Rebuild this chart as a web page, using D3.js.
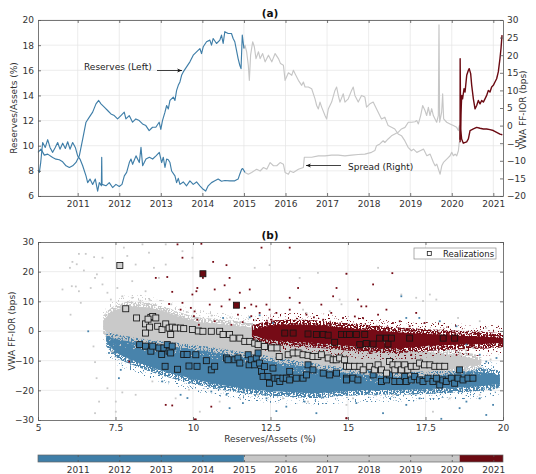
<!DOCTYPE html>
<html>
<head>
<meta charset="utf-8">
<script src="https://cdn.jsdelivr.net/npm/d3@7"></script>
<style>
  body { margin: 0; background: #fff; }
  svg text { font-family: "DejaVu Sans", sans-serif; }
</style>
</head>
<body>
<svg id="chart" width="536" height="474"></svg>
<script>
// ---------- data ----------
// Reserves / assets (%), [decimal year, value]
const reserves = [
  [2010.045,9.47],[2010.117,9.73],[2010.197,9.25],[2010.278,9.33],[2010.398,9.07],[2010.478,8.93],
  [2010.558,8.88],[2010.639,8.72],[2010.719,8.4],[2010.799,8.27],[2010.879,8.4],[2010.959,8.67],
  [2011.039,9.2],[2011.12,10.53],[2011.2,11.87],[2011.28,12.27],[2011.36,12.67],[2011.44,13.33],
  [2011.505,13.6],[2011.56,13.33],[2011.64,13.07],[2011.72,12.8],[2011.8,12.53],[2011.88,12.4],
  [2011.96,12.13],[2012.04,12.4],[2012.12,12.67],[2012.16,12.13],[2012.24,12.4],[2012.32,11.87],
  [2012.4,12.13],[2012.48,12.0],[2012.56,11.73],[2012.64,11.6],[2012.72,11.2],[2012.8,11.47],
  [2012.88,11.47],[2012.96,11.87],[2013.0,11.3],[2013.04,12.0],[2013.1,12.67],[2013.14,13.2],
  [2013.18,12.93],[2013.22,13.6],[2013.3,13.87],[2013.34,13.6],[2013.38,14.4],[2013.42,14.8],
  [2013.46,15.07],[2013.5,15.6],[2013.54,15.87],[2013.62,16.27],[2013.7,16.67],[2013.78,17.2],
  [2013.86,17.47],[2013.94,17.73],[2013.98,17.33],[2014.02,17.87],[2014.1,18.27],[2014.18,18.4],
  [2014.22,18.0],[2014.26,18.53],[2014.34,18.13],[2014.42,18.4],[2014.46,18.8],[2014.5,18.13],
  [2014.54,19.07],[2014.62,18.93],[2014.7,18.93],[2014.74,18.53],[2014.78,18.27],[2014.82,17.6],
  [2014.86,16.93],[2014.9,16.4],[2014.93,16.13],[2014.945,17.47],[2014.96,18.8],
  [2015.0,17.73],[2015.025,18.0],[2015.065,17.47],[2015.105,16.4],[2015.13,15.2],[2015.16,17.2],
  [2015.21,18.27],[2015.25,17.87],[2015.29,16.93],[2015.35,17.47],[2015.39,16.93],[2015.45,17.33],
  [2015.51,16.67],[2015.59,17.2],[2015.67,16.67],[2015.75,17.33],[2015.83,16.93],[2015.88,16.53],
  [2015.95,16.4],[2015.99,15.2],[2016.07,15.8],[2016.15,15.6],[2016.19,16.0],[2016.23,15.73],
  [2016.31,15.2],[2016.39,14.8],[2016.43,15.07],[2016.47,14.67],[2016.55,14.67],[2016.63,14.53],
  [2016.71,13.73],[2016.75,13.2],[2016.79,12.93],[2016.83,13.47],[2016.87,13.07],[2016.95,12.4],
  [2016.99,12.13],[2017.03,12.93],[2017.11,13.47],[2017.19,14.4],[2017.23,14.67],[2017.27,14.0],
  [2017.31,13.47],[2017.39,14.13],[2017.43,13.47],[2017.51,13.73],[2017.59,14.4],[2017.63,14.67],
  [2017.67,14.0],[2017.75,13.47],[2017.83,14.0],[2017.91,13.87],[2017.95,13.07],[2018.03,13.33],
  [2018.11,13.47],[2018.15,13.2],[2018.23,12.67],[2018.31,12.13],[2018.39,12.27],[2018.47,11.6],
  [2018.55,11.47],[2018.63,11.33],[2018.71,10.93],[2018.79,10.8],[2018.87,10.4],[2018.95,9.87],
  [2019.03,9.6],[2019.08,9.73],[2019.16,9.47],[2019.24,9.6],[2019.32,9.73],[2019.4,9.2],
  [2019.48,9.33],[2019.56,8.67],[2019.6,8.4],[2019.64,8.53],[2019.68,8.13],[2019.72,7.73],
  [2019.76,8.4],[2019.8,8.67],[2019.88,8.93],[2019.96,9.2],[2020.0,9.47],[2020.04,9.2],
  [2020.08,9.33],[2020.12,9.2],[2020.16,9.6],[2020.18,10.27],
  [2020.2,10.27],[2020.22,12.4],[2020.24,14.0],[2020.26,13.73],[2020.295,14.53],[2020.32,14.27],
  [2020.36,15.6],[2020.4,16.0],[2020.42,16.13],[2020.455,15.73],[2020.48,14.8],[2020.52,13.73],
  [2020.56,12.93],[2020.6,13.2],[2020.64,13.6],[2020.68,13.33],[2020.72,13.6],[2020.76,13.47],
  [2020.8,13.73],[2020.84,14.0],[2020.88,14.4],[2020.92,14.27],[2020.96,14.67],[2021.0,14.8],
  [2021.04,15.07],[2021.08,15.33],[2021.12,15.87],[2021.16,16.93],[2021.185,17.73],[2021.21,18.8]
];

// Value-weighted FF minus IOR spread (bps), [decimal year, value]
const spread = [
  [2010.045,-12.6],[2010.077,-13.3],[2010.11,-10.5],[2010.157,-4.8],[2010.22,-6.2],[2010.278,-4.0],
  [2010.334,-6.2],[2010.398,-7.6],[2010.46,-6.2],[2010.518,-4.8],[2010.574,-6.7],[2010.639,-5.0],
  [2010.703,-6.5],[2010.759,-4.6],[2010.815,-6.7],[2010.879,-4.8],[2010.943,-6.2],[2010.999,-8.6],
  [2011.055,-9.5],[2011.12,-11.4],[2011.2,-14.3],[2011.24,-16.2],[2011.296,-15.2],[2011.36,-16.7],
  [2011.424,-15.2],[2011.48,-18.6],[2011.52,-16.2],[2011.57,-17.1],[2011.578,-9.0],[2011.586,-16.7],
  [2011.68,-17.1],[2011.76,-16.2],[2011.84,-17.6],[2011.92,-16.7],[2012.0,-17.3],[2012.066,-16.7],
  [2012.122,-14.3],[2012.178,-13.3],[2012.242,-10.5],[2012.282,-9.5],[2012.322,-11.0],[2012.403,-8.6],
  [2012.483,-10.5],[2012.523,-6.2],[2012.563,-11.4],[2012.643,-9.5],[2012.724,-9.0],[2012.804,-9.5],
  [2012.884,-8.6],[2012.964,-7.6],[2013.02,-10.5],[2013.06,-9.0],[2013.1,-11.9],[2013.14,-9.5],
  [2013.18,-9.7],[2013.22,-10.5],[2013.26,-12.9],[2013.34,-14.3],[2013.38,-16.2],[2013.42,-15.0],
  [2013.46,-16.7],[2013.54,-16.0],[2013.62,-17.1],[2013.7,-15.7],[2013.78,-16.7],[2013.86,-16.0],
  [2013.94,-17.1],[2014.02,-18.1],[2014.08,-18.6],[2014.14,-17.1],[2014.22,-16.2],[2014.3,-15.7],
  [2014.38,-15.2],[2014.46,-15.8],[2014.54,-15.6],[2014.66,-15.7],[2014.78,-15.7],[2014.86,-15.2],
  [2014.9,-13.8],[2014.945,-12.4],[2014.97,-12.2],
  [2015.025,-13.3],[2015.105,-13.8],[2015.185,-13.3],[2015.306,-12.4],[2015.39,-12.9],[2015.47,-11.9],
  [2015.55,-12.4],[2015.63,-10.5],[2015.71,-11.4],[2015.79,-11.4],[2015.87,-10.5],[2015.95,-11.0],
  [2015.99,-13.3],[2016.07,-13.8],[2016.11,-12.9],[2016.19,-13.3],[2016.31,-12.4],[2016.43,-11.9],
  [2016.453,-9.0],[2016.51,-9.0],[2016.63,-9.0],[2016.79,-8.6],[2016.95,-8.6],[2017.11,-8.4],
  [2017.27,-8.4],[2017.43,-8.6],[2017.59,-8.4],[2017.75,-8.2],[2017.91,-8.1],[2018.07,-7.6],
  [2018.15,-7.1],[2018.19,-5.7],[2018.27,-5.2],[2018.35,-4.3],[2018.39,-4.8],[2018.47,-3.8],
  [2018.55,-2.9],[2018.63,-2.4],[2018.71,-1.9],[2018.79,-0.95],[2018.875,-0.5],[2018.955,0.95],
  [2019.035,0.95],[2019.115,1.1],[2019.156,1.43],[2019.196,0.48],[2019.252,2.86],[2019.3,5.7],
  [2019.356,4.3],[2019.396,2.86],[2019.437,5.2],[2019.477,2.86],[2019.517,4.8],[2019.557,2.86],
  [2019.597,1.9],[2019.637,0.95],[2019.677,2.86],[2019.693,28.6],[2019.709,0.95],[2019.757,3.8],
  [2019.781,9.0],[2019.805,1.9],[2019.878,0.95],[2019.958,0.48],[2020.038,0],[2020.118,-0.5],
  [2020.158,-1.4],[2020.183,0],
  [2020.2,-4.0],[2020.202,19.0],[2020.215,-0.95],[2020.238,-3.8],[2020.278,-5.0],[2020.359,-4.6],
  [2020.4,-3.8],[2020.44,-1.4],[2020.52,-0.95],[2020.6,-0.5],[2020.68,-0.76],[2020.76,-0.95],
  [2020.84,-0.95],[2020.92,-1.14],[2021.0,-1.4],[2021.08,-1.9],[2021.16,-2.4],[2021.217,-2.6]
];

// Regime boundaries (decimal years) and their colours
const periodEdges = [2010.045, 2015.0, 2020.19, 2021.233];
const periodColors = ["#3f7ea8", "#c6c6c6", "#6b0a12"];
const yearTicks = [2011, 2012, 2013, 2014, 2015, 2016, 2017, 2018, 2019, 2020, 2021];
const leftTicks = [6, 8, 10, 12, 14, 16, 18, 20];
const rightTicks = [-20, -15, -10, -5, 0, 5, 10, 15, 20, 25, 30];

// Simulated cloud envelopes per regime: [reserves %, lower bps, upper bps]
const blueCloud = [
  [7.2,-3.5,-0.5],[7.5,-7.0,-0.8],[8.0,-9.6,-1.8],[8.5,-11.6,-2.6],[9.0,-13.4,-3.2],[9.5,-14.8,-3.8],
  [10.0,-16.2,-4.4],[10.5,-17.4,-5.0],[11.0,-18.4,-5.6],[11.5,-19.2,-6.4],[12.0,-19.8,-7.3],
  [12.5,-20.2,-8.2],[13.0,-20.5,-9.3],[13.5,-20.8,-10.1],[14.0,-21.0,-10.7],[14.5,-20.6,-11.4],
  [15.0,-20.2,-12.0],[15.5,-20.0,-12.6],[16.0,-19.9,-13.0],[17.0,-19.8,-13.5],[18.0,-19.4,-13.4],
  [19.0,-18.8,-13.6],[19.5,-18.4,-14.2],[19.9,-17.6,-15.0]
];
const grayCloud = [
  [7.1,0.5,3.5],[7.4,-0.8,6.5],[8.0,-2.0,8.3],[8.5,-2.8,8.0],[9.0,-3.4,6.8],[9.5,-4.0,5.0],
  [10.0,-4.6,3.4],[10.5,-5.3,2.7],[11.0,-6.1,2.2],[11.5,-6.9,1.6],[12.0,-7.7,1.0],[12.5,-8.6,0.2],
  [13.0,-9.4,-0.8],[13.5,-10.2,-1.8],[14.0,-11.0,-2.7],[14.5,-11.8,-3.6],[15.0,-12.6,-4.4],
  [15.5,-13.1,-5.0],[16.0,-13.5,-5.5],[16.5,-13.7,-6.0],[17.0,-13.8,-6.5],[17.5,-13.6,-7.0],
  [18.0,-13.3,-7.6],[18.5,-12.6,-8.3],[19.0,-11.6,-9.2],[19.3,-10.8,-10.0]
];
const redCloud = [
  [11.9,-1.2,0.2],[12.3,-2.6,1.4],[12.8,-3.3,2.1],[13.5,-3.8,2.2],[14.2,-4.2,1.8],[14.8,-4.8,1.2],
  [15.5,-5.4,0.5],[16.0,-5.7,0.1],[16.5,-5.8,-0.3],[17.0,-5.6,-0.7],[17.5,-5.1,-1.0],[18.0,-4.8,-1.2],
  [18.5,-4.6,-1.5],[19.0,-4.5,-1.8],[19.5,-4.3,-2.0],[20.0,-4.0,-2.4]
];

// Scattered simulated draws outside the dense clouds: [reserves %, bps]
const grayDots = [
  [6.11,23.3],[6.32,26],[6.54,26],[6.03,21.3],[6.25,22.5],[6.48,20.4],[6.81,24.9],[7.08,24.7],
  [6.9,19.1],[6.84,17.9],[5.79,14],[6.09,15.1],[6.22,15.0],[6.32,13.4],[6.05,5.5],[6.38,9.5],
  [6.7,14.5],[7.08,15.7],[7.24,12.9],[7.35,10.6],[6.79,-5.2],[6.84,-10.5],[6.89,-15.9],[6.84,-27.7],
  [6.97,-23.8],[7.24,-19.3],[7.4,-6.9],[7.72,-20.7],[7.77,28.1],[7.88,25.3],[8.15,22.4],[8.04,16.8],
  [8.37,29.2],[8.58,26.4],[8.74,21.3],[8.9,17.9],[9.12,29.2],[9.12,22.4],[8.04,11.2],[8.47,13.4],
  [7.56,14.5],[7.72,11.7],[7.35,6.1],[7.24,3.3],[9.66,26.9],[9.98,24.7],[7.51,-23.8],[7.51,-27.2],
  [8.15,-21.5],[8.69,-17],[9.44,-22.7],[9.87,-19.8],[11.99,21.3],[12.47,22.2],[13.44,17.9],
  [14.03,19.6],[14.95,19.3],[13.55,7.2],[13.66,6.1],[14.41,6.7],[14.73,10.6],[14.79,9.0],
  [10.22,-27.2],[10.86,-23.8],[11.51,-22.7],[12.1,-21.5],[12.9,-22.7],[13.71,-23.8],[14.41,-21.5],
  [14.95,-24.9],[15.97,21.3],[16.72,12.3],[17.2,11.2],[17.42,10.1],[17.64,12.3],[17.85,10.6],
  [18.55,4.4],[19.25,3.3],[19.46,1.0],[19.03,-5.7],[18.82,-13.6],[19.25,-21.5],[15.16,-22.7],
  [16.45,-21.5],[17.74,-27.2],[18.28,-22.7],[8.6,10.5],[9.3,9.0],[7.9,9.8],[8.3,10.2],[9.8,6.4],
  [10.6,5.2],[11.2,4.6],[12.0,3.6],[16.2,-3.8],[17.6,-5.2],[18.8,-6.6],[19.6,-9.6]
];
const blueDots = [
  [6.62,-0.1],[7.29,-7.4],[7.67,-13.1],[7.61,-15.9],[9.01,-17],[9.6,-21.5],[9.82,-22.6],[9.87,-17.5],
  [10.59,-20.4],[11.08,-21.5],[11.18,-26],[11.61,-24.3],[12.37,-22.7],[12.69,-27],[13.01,-25.5],
  [13.23,-22.1],[13.6,-23.8],[13.98,-27.7],[14.52,-20.4],[10.97,4.4],[11.83,4.6],[12.15,5.3],
  [12.58,2.7],[16.72,11.7],[16.88,4.4],[17.3,4.4],[17.96,3.3],[18.5,1.6],[18.82,-4.6],[19.25,-8],
  [19.46,-10.3],[19.79,-9.1],[15.27,-24.3],[16.13,-27.7],[16.88,-24.9],[17.31,-22.7],[18.01,-29.6],
  [18.6,-26],[18.82,-23.8],[19.25,-22.7],[19.68,-24.9],[19.46,-28.3],[15.9,-21.4],[17.1,-21.2],
  [18.3,-20.6],[19.6,-19.9],[14.2,-22.4],[12.0,-21.6]
];
const redDots = [
  [9.5,29.2],[9.66,24.7],[8.8,17.9],[9.17,18.2],[9.33,13.2],[9.23,9.1],[9.66,9.5],[9.98,12.3],
  [10.14,14.5],[9.6,7.2],[9.93,7.8],[10.03,5],[10.14,3.8],[10.19,2.1],[7.94,-10.3],[9.12,-24.9],
  [9.33,-25.1],[10.09,-29.8],[10.27,29.4],[10.65,23.3],[11.08,22.2],[11.18,17.9],[11.02,15.4],
  [10.7,14],[11.83,14],[12.21,28.1],[13.12,28.1],[11.51,12.9],[11.18,10.6],[10.92,8.3],[11.67,7.8],
  [11.88,8.9],[12.04,8.3],[12.37,8.9],[12.47,7.2],[12.15,6.1],[11.88,5],[12.53,3.8],[13.12,7.2],
  [13.44,9.5],[13.66,5.5],[14.2,3.8],[14.52,11.7],[14.46,6.1],[13.12,11.2],[13.39,14.5],[11.45,5.5],
  [10.7,3.3],[10.59,-25.5],[10.05,-29.8],[14.95,-29.4],[12.69,6.1],[10.11,13.4],[10.32,17.9],
  [10.54,8.9],[10.05,6.6],[12.8,3.3],[11.24,2.1],[13.55,2.7],[14.63,14.5],[14.14,8.9],[14.95,19.3],
  [16.43,19.5],[15.32,10.6],[15.43,8.3],[15.59,8.3],[15.81,15.7],[15.22,4.9],[15.48,4.4],[15.97,5.5],
  [16.24,7.2],[16.67,3.3],[16.99,1.6],[16.45,2.7],[17.2,6.1],[14.84,4.4],[17.47,2.7],[18.5,-8],
  [16.13,-17],[14.95,-29.4],[16.34,-6.9],[17.04,-8],[15.7,-7.4],[11.6,3.0],[12.0,1.8],[13.9,4.6],
  [18.1,-0.2],[19.2,-0.6],[19.9,-1.2]
];

// Realized (reserves %, spread bps) pairs per regime
const realBlue = [
  [8.28,-4.6],[8.47,-5.1],[8.64,-6.8],[8.7,-5.1],[8.9,-5.7],[8.99,-7.9],[9.06,-5.7],[9.17,-4.6],
  [9.23,-6.8],[9.28,-7.4],[9.33,-5.1],[9.1,-11.9],[9.5,-12.9],[9.7,-7.9],[9.81,-7.9],[9.87,-11.8],
  [10.09,-8.0],[10.13,-11.9],[10.43,-10],[10.59,-13.1],[10.7,-11.9],[11.08,-9.1],[11.13,-9.7],
  [11.35,-9.7],[11.45,-9.1],[11.51,-10.8],[11.78,-8],[11.81,-11.4],[11.88,-9.7],[11.99,-11.4],
  [12.04,-9.1],[12.1,-7.4],[12.15,-10.8],[12.21,-13.6],[12.31,-12],[12.26,-15.3],[12.42,-15.3],
  [12.47,-17.6],[12.58,-12.5],[12.64,-15.9],[12.74,-15.9],[12.8,-17],[12.9,-15.9],[13.01,-15.9],
  [13.12,-16.5],[13.12,-13.6],[13.33,-15.9],[13.55,-15.9],[13.66,-14.8],[13.71,-11.4],[13.87,-13.1],
  [14.2,-14.2],[14.41,-14.8],[14.63,-14.2],[14.95,-15.9],[14.95,-16.5],[15.16,-15.9],[15.32,-16.5],
  [15.81,-14.8],[16.08,-17],[16.24,-16.5],[16.34,-14.8],[16.51,-17],[16.67,-17],[16.83,-15.3],
  [16.88,-17],[17.04,-16.5],[17.15,-15.3],[17.31,-16.5],[17.42,-17],[17.58,-15.9],[17.74,-17],
  [17.85,-15.9],[17.96,-18.2],[18.06,-16.5],[18.17,-17],[18.33,-15.9],[18.44,-17.6],[18.55,-15.9],
  [18.6,-13.1],[18.71,-16.5],[18.87,-15.9],[19.03,-15.9]
];
const realGray = [
  [7.64,22.1],[7.83,7.5],[8.18,4.4],[8.47,2.4],[8.64,4.6],[8.7,4.9],[8.55,4.0],[8.6,1.3],[8.47,-0.7],
  [8.8,4.4],[8.86,1.6],[9.0,0.5],[9.12,2.4],[9.23,1.0],[9.28,-1.2],[9.33,1.3],[9.44,1.0],[9.6,1.0],
  [9.7,0.8],[9.98,0.5],[10.17,0],[10.32,-0.1],[10.59,-0.1],[10.86,-0.1],[10.97,-1.2],[11.18,-1.2],
  [11.29,-2.4],[11.51,-2.4],[11.67,-3.5],[11.83,-3.5],[11.99,-4.1],[12.1,-4.6],[12.31,-5.2],
  [12.53,-5.7],[12.71,-5.7],[12.78,-8.6],[13.07,-8.0],[13.23,-7.4],[13.39,-7.4],[13.55,-8],
  [13.71,-8.2],[13.87,-8.6],[14.03,-8.6],[14.14,-8.0],[14.36,-9.1],[14.52,-9.7],[14.62,-9.7],
  [14.73,-9.1],[14.89,-9.7],[14.95,-11.9],[15.05,-11.9],[15.21,-11.9],[15.38,-11.9],[15.49,-13.1],
  [15.7,-11.9],[15.86,-13.1],[15.97,-11.4],[16.08,-13.1],[16.24,-14.2],[16.34,-10.3],[16.45,-11.4],
  [16.51,-13.1],[16.61,-11.4],[16.72,-13.1],[16.83,-11.4],[16.93,-13.1],[17.04,-11.9],[17.2,-11.9],
  [17.31,-10.8],[17.47,-11.4],[17.64,-11.4],[17.8,-11.9],[17.96,-11.9],[18.12,-11.9]
];
const realRed = [
  [10.32,19.3],[11.4,8.7],[12.96,-0.7],[13.23,-0.7],[13.71,-1.0],[13.98,-1.2],[14.2,-1.2],[14.36,-1.4],
  [14.57,-3.8],[14.79,-1.2],[14.95,-1.2],[15.05,-1.2],[15.27,-1.2],[15.38,-4.6],[15.54,-1.2],
  [15.59,-4.2],[15.81,-4.4],[16.02,-2.4],[16.24,-2.4],[16.29,-4.4],[16.4,-2.4],[16.99,-2.4],
  [18.07,-2.4],[18.44,-2.4]
];
const reserveTicks = [5, 7.5, 10, 12.5, 15, 17.5, 20];
const spreadTicks = [-30, -20, -10, 0, 10, 20, 30];

// ---------- drawing ----------
const svg = d3.select("#chart");
const AX = "#555", TXT = "#333", GRID = "#e4e4e4";
const FONT = '"DejaVu Sans", sans-serif';

function styleAxis(g) {
  g.attr("font-family", FONT).attr("font-size", 9);
  g.selectAll(".domain").attr("stroke", AX).attr("stroke-width", 0.8);
  g.selectAll(".tick line").attr("stroke", AX).attr("stroke-width", 0.8);
  g.selectAll(".tick text").attr("fill", TXT);
}

// slice of a time series falling in regime i (plus the next point so segments join)
function regimeSlice(series, i) {
  const a = periodEdges[i], b = periodEdges[i + 1];
  const idx = [];
  series.forEach((d, k) => { if (d[0] >= a && (d[0] < b || i === periodEdges.length - 2)) idx.push(k); });
  const last = idx[idx.length - 1];
  if (last + 1 < series.length) idx.push(last + 1);
  return idx.map(k => series[k]);
}

const defs = svg.append("defs");

// grainy masks for the thin outer edges of the simulated clouds
function speckleFilter(id, seed, slope, offset) {
  const f = defs.append("filter").attr("id", id)
    .attr("x", "-5%").attr("y", "-5%").attr("width", "110%").attr("height", "110%");
  f.append("feTurbulence").attr("type", "fractalNoise").attr("baseFrequency", 0.6)
    .attr("numOctaves", 1).attr("seed", seed).attr("result", "noise");
  f.append("feColorMatrix").attr("in", "noise").attr("type", "matrix")
    .attr("values", `0 0 0 0 0  0 0 0 0 0  0 0 0 0 0  ${slope} 0 0 0 ${offset}`).attr("result", "mask");
  f.append("feComposite").attr("in", "SourceGraphic").attr("in2", "mask").attr("operator", "in");
}
speckleFilter("speckleDense", 4, 14, -6.2);
speckleFilter("speckleSparse", 9, 14, -8.6);

// ===== panel (a): time series =====
const xT = d3.scaleLinear().domain([periodEdges[0], periodEdges[3]]).range([38, 503]);
const yL = d3.scaleLinear().domain([6, 20]).range([196, 20]);
const yR = d3.scaleLinear().domain([-20, 30]).range([196, 20]);

const gA = svg.append("g");
gA.append("g").selectAll("line").data(yearTicks).join("line")
  .attr("x1", d => xT(d)).attr("x2", d => xT(d)).attr("y1", 20).attr("y2", 196)
  .attr("stroke", GRID).attr("stroke-width", 0.7);
gA.append("g").selectAll("line").data(leftTicks).join("line")
  .attr("x1", 38).attr("x2", 503).attr("y1", d => yL(d)).attr("y2", d => yL(d))
  .attr("stroke", GRID).attr("stroke-width", 0.7);

const lineRes = d3.line().x(d => xT(d[0])).y(d => yL(d[1]));
const lineSpr = d3.line().x(d => xT(d[0])).y(d => yR(d[1]));
const plotA = gA.append("g");
[1, 0, 2].forEach(i => {
  const w = i === 2 ? 1.4 : 1.15;
  plotA.append("path").datum(regimeSlice(spread, i)).attr("d", lineSpr)
    .attr("fill", "none").attr("stroke", periodColors[i]).attr("stroke-width", w).attr("stroke-linejoin", "round");
  plotA.append("path").datum(regimeSlice(reserves, i)).attr("d", lineRes)
    .attr("fill", "none").attr("stroke", periodColors[i]).attr("stroke-width", w).attr("stroke-linejoin", "round");
});

gA.append("g").attr("transform", "translate(0,196)")
  .call(d3.axisBottom(xT).tickValues(yearTicks).tickFormat(d3.format("d")).tickSizeInner(-3).tickSizeOuter(0).tickPadding(5))
  .call(styleAxis);
gA.append("g").attr("transform", "translate(0,20)")
  .call(d3.axisTop(xT).tickValues(yearTicks).tickFormat("").tickSizeInner(-3).tickSizeOuter(0))
  .call(styleAxis);
gA.append("g").attr("transform", "translate(38,0)")
  .call(d3.axisLeft(yL).tickValues(leftTicks).tickSizeInner(-3).tickSizeOuter(0).tickPadding(4))
  .call(styleAxis);
gA.append("g").attr("transform", "translate(503,0)")
  .call(d3.axisRight(yR).tickValues(rightTicks).tickSizeInner(-3).tickSizeOuter(0).tickPadding(4))
  .call(styleAxis);

// arrow markers
defs.append("marker").attr("id", "arrowhead").attr("viewBox", "0 0 10 10")
  .attr("refX", 10).attr("refY", 5).attr("markerWidth", 7).attr("markerHeight", 5)
  .attr("markerUnits", "userSpaceOnUse").attr("orient", "auto")
  .append("path").attr("d", "M0,1 L10,5 L0,9 L3,5 Z").attr("fill", "#111");

gA.append("text").attr("x", 84).attr("y", 70).attr("font-size", 9).attr("fill", "#222").text("Reserves (Left)");
gA.append("line").attr("x1", 157).attr("x2", 182).attr("y1", 70.5).attr("y2", 70.5)
  .attr("stroke", "#111").attr("stroke-width", 0.8).attr("marker-end", "url(#arrowhead)");
gA.append("text").attr("x", 348).attr("y", 169.5).attr("font-size", 9).attr("fill", "#222").text("Spread (Right)");
gA.append("line").attr("x1", 341).attr("x2", 306).attr("y1", 165.5).attr("y2", 165.5)
  .attr("stroke", "#111").attr("stroke-width", 0.8).attr("marker-end", "url(#arrowhead)");

gA.append("text").attr("x", 270).attr("y", 17).attr("text-anchor", "middle")
  .attr("font-size", 10.5).attr("font-weight", "bold").attr("fill", "#111").text("(a)");
gA.append("text").attr("transform", "translate(17,108) rotate(-90)").attr("text-anchor", "middle")
  .attr("font-size", 9).attr("fill", TXT).text("Reserves/Assets (%)");
gA.append("text").attr("transform", "translate(526,110) rotate(-90)").attr("text-anchor", "middle")
  .attr("font-size", 9).attr("fill", TXT).text("VWA FF-IOR (bps)");

// ===== panel (b): scatter =====
const xS = d3.scaleLinear().domain([5, 20]).range([38, 503]);
const yS = d3.scaleLinear().domain([-30, 30]).range([420, 242]);
const gB = svg.append("g");

gB.append("g").selectAll("line").data(reserveTicks.slice(1, -1)).join("line")
  .attr("x1", d => xS(d)).attr("x2", d => xS(d)).attr("y1", 242).attr("y2", 420)
  .attr("stroke", GRID).attr("stroke-width", 0.7);
gB.append("g").selectAll("line").data(spreadTicks.slice(1, -1)).join("line")
  .attr("x1", 38).attr("x2", 503).attr("y1", d => yS(d)).attr("y2", d => yS(d))
  .attr("stroke", GRID).attr("stroke-width", 0.7);

const clip = defs.append("clipPath").attr("id", "clipB");
clip.append("rect").attr("x", 38).attr("y", 242).attr("width", 465).attr("height", 178);
const plotB = gB.append("g").attr("clip-path", "url(#clipB)");

const cloudColors = ["#4883ab", "#c9c9c9", "#760b16"];
const clouds = [blueCloud, grayCloud, redCloud];
const bandArea = pad => d3.area().curve(d3.curveMonotoneX)
  .x(d => xS(d[0])).y0(d => yS(d[1] - pad)).y1(d => yS(d[2] + pad));
clouds.forEach((c, i) => {
  const g = plotB.append("g");
  g.append("path").datum(c).attr("d", bandArea(4.0)).attr("fill", cloudColors[i])
    .attr("filter", "url(#speckleSparse)");
  g.append("path").datum(c).attr("d", bandArea(1.6)).attr("fill", cloudColors[i])
    .attr("filter", "url(#speckleDense)");
  g.append("path").datum(c).attr("d", bandArea(0)).attr("fill", cloudColors[i]);
});

[[grayDots, 1], [blueDots, 0], [redDots, 2]].forEach(([pts, i]) => {
  plotB.append("g").selectAll("rect").data(pts).join("rect")
    .attr("x", d => xS(d[0]) - 0.9).attr("y", d => yS(d[1]) - 0.9)
    .attr("width", 1.8).attr("height", 1.8).attr("fill", cloudColors[i]);
});

const squareFill = ["#3d7aa3", "#d0d0d0", "#6a0a12"];
[realBlue, realGray, realRed].forEach((pts, i) => {
  plotB.append("g").selectAll("rect").data(pts).join("rect")
    .attr("x", d => xS(d[0]) - 3).attr("y", d => yS(d[1]) - 3)
    .attr("width", 6).attr("height", 6)
    .attr("fill", squareFill[i]).attr("stroke", "#151515").attr("stroke-width", 0.85);
});

const fmtRes = d => (d % 1 ? d.toFixed(1) : d3.format("d")(d));
gB.append("g").attr("transform", "translate(0,420)")
  .call(d3.axisBottom(xS).tickValues(reserveTicks).tickFormat(fmtRes).tickSizeInner(-3).tickSizeOuter(0).tickPadding(5))
  .call(styleAxis);
gB.append("g").attr("transform", "translate(0,242)")
  .call(d3.axisTop(xS).tickValues(reserveTicks).tickFormat("").tickSizeInner(-3).tickSizeOuter(0))
  .call(styleAxis);
gB.append("g").attr("transform", "translate(38,0)")
  .call(d3.axisLeft(yS).tickValues(spreadTicks).tickSizeInner(-3).tickSizeOuter(0).tickPadding(4))
  .call(styleAxis);
gB.append("g").attr("transform", "translate(503,0)")
  .call(d3.axisRight(yS).tickValues(spreadTicks).tickFormat("").tickSizeInner(-3).tickSizeOuter(0))
  .call(styleAxis);

gB.append("text").attr("x", 270).attr("y", 239).attr("text-anchor", "middle")
  .attr("font-size", 10.5).attr("font-weight", "bold").attr("fill", "#111").text("(b)");
gB.append("text").attr("transform", "translate(15,331) rotate(-90)").attr("text-anchor", "middle")
  .attr("font-size", 9).attr("fill", TXT).text("VWA FF-IOR (bps)");
gB.append("text").attr("x", 270).attr("y", 441.5).attr("text-anchor", "middle")
  .attr("font-size", 9).attr("fill", TXT).text("Reserves/Assets (%)");

// legend
const lg = gB.append("g");
lg.append("rect").attr("x", 414).attr("y", 248).attr("width", 82).attr("height", 11)
  .attr("fill", "#fff").attr("stroke", "#8a8a8a").attr("stroke-width", 0.7);
lg.append("rect").attr("x", 427.3).attr("y", 251.5).attr("width", 4).attr("height", 4)
  .attr("fill", "#fff").attr("stroke", "#222").attr("stroke-width", 0.8);
lg.append("text").attr("x", 443).attr("y", 256.6).attr("font-size", 8.5).attr("fill", "#222").text("Realizations");

// ===== time colour bar =====
const gC = svg.append("g");
d3.range(3).forEach(i => {
  gC.append("rect").attr("x", xT(periodEdges[i])).attr("y", 455)
    .attr("width", xT(periodEdges[i + 1]) - xT(periodEdges[i])).attr("height", 7)
    .attr("fill", periodColors[i]);
});
gC.append("rect").attr("x", 38).attr("y", 455).attr("width", 465).attr("height", 7)
  .attr("fill", "none").attr("stroke", "#666").attr("stroke-width", 0.7);
gC.append("g").attr("transform", "translate(0,462)")
  .call(d3.axisBottom(xT).tickValues(yearTicks).tickFormat(d3.format("d")).tickSizeInner(-2).tickSizeOuter(0).tickPadding(5))
  .call(styleAxis)
  .call(g => g.select(".domain").remove());
gC.append("g").attr("transform", "translate(0,455)")
  .call(d3.axisTop(xT).tickValues(yearTicks).tickFormat("").tickSizeInner(-2).tickSizeOuter(0))
  .call(styleAxis)
  .call(g => g.select(".domain").remove());
</script>
</body>
</html>
